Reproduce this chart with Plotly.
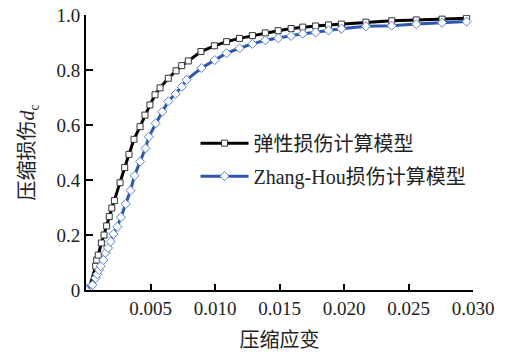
import plotly.graph_objects as go

# Compressive strain / damage for the elastic damage model
elastic_strain = [0.0, 0.00026, 0.00075, 0.00083, 0.00095, 0.00119, 0.0014, 0.0016, 0.0018,
                  0.002, 0.0022, 0.00264, 0.003, 0.00333, 0.00372, 0.00419, 0.00457,
                  0.00496, 0.00535, 0.00574, 0.00638, 0.00698, 0.00742, 0.00793, 0.00891,
                  0.00995, 0.0109, 0.0119, 0.0129, 0.0139, 0.0149, 0.0159, 0.0168,
                  0.0178, 0.0188, 0.0198, 0.0217, 0.0237, 0.0256, 0.0276, 0.0295]
elastic_damage = [0.0, 0.007, 0.087, 0.109, 0.127, 0.171, 0.2, 0.233, 0.267,
                  0.298, 0.325, 0.39, 0.445, 0.493, 0.548, 0.594, 0.636,
                  0.673, 0.71, 0.735, 0.77, 0.797, 0.816, 0.833, 0.867,
                  0.888, 0.903, 0.915, 0.925, 0.935, 0.943, 0.951, 0.956,
                  0.96, 0.964, 0.967, 0.974, 0.979, 0.982, 0.985, 0.988]

# Compressive strain / damage for the Zhang-Hou model
zh_strain = [0.0, 0.00049, 0.00074, 0.00088, 0.00101, 0.00114, 0.00134, 0.00151, 0.00171,
             0.00191, 0.00213, 0.00243, 0.00271, 0.00308, 0.00345, 0.00376, 0.00419,
             0.00461, 0.00487, 0.0054, 0.00591, 0.00638, 0.00695, 0.00742, 0.0078,
             0.00895, 0.00998, 0.0109, 0.0119, 0.0129, 0.0139, 0.0149, 0.0159,
             0.0168, 0.0178, 0.0188, 0.0198, 0.0217, 0.0237, 0.0256, 0.0276, 0.0295]
zh_damage = [0.0, 0.018, 0.043, 0.057, 0.073, 0.087, 0.109, 0.135, 0.153,
             0.176, 0.204, 0.23, 0.265, 0.313, 0.362, 0.416, 0.467,
             0.515, 0.557, 0.606, 0.648, 0.686, 0.713, 0.739, 0.764,
             0.807, 0.836, 0.861, 0.879, 0.895, 0.908, 0.916, 0.924,
             0.932, 0.937, 0.944, 0.95, 0.959, 0.961, 0.967, 0.972, 0.976]

x_ticks = [0.005, 0.010, 0.015, 0.020, 0.025, 0.030]
x_tick_text = ["0.005", "0.010", "0.015", "0.020", "0.025", "0.030"]
y_ticks = [0, 0.2, 0.4, 0.6, 0.8, 1.0]
y_tick_text = ["0", "0.2", "0.4", "0.6", "0.8", "1.0"]

FONT = "Liberation Serif, Noto Sans CJK SC, serif"

fig = go.Figure()
fig.add_trace(go.Scatter(
    x=elastic_strain, y=elastic_damage, mode="lines+markers",
    name="弹性损伤计算模型", legendgroup="elastic",
    line=dict(color="black", width=3),
    marker=dict(symbol="square", size=6, color="white",
                line=dict(color="#333333", width=1)),
))
fig.add_trace(go.Scatter(
    x=zh_strain, y=zh_damage, mode="lines+markers",
    name="Zhang-Hou损伤计算模型", legendgroup="zhanghou",
    line=dict(color="#2b58b0", width=3),
    marker=dict(symbol="diamond", size=7, color="white",
                line=dict(color="#5b7fd6", width=1)),
))

fig.update_layout(
    width=508, height=353,
    margin=dict(l=86, r=35, t=15, b=63),
    paper_bgcolor="white", plot_bgcolor="white",
    font=dict(family=FONT, size=19, color="#222222"),
    showlegend=True,
    legend=dict(x=0.283, y=0.605, xanchor="left", yanchor="top",
                bgcolor="rgba(0,0,0,0)", font=dict(size=20),
                itemwidth=48, tracegroupgap=4),
    xaxis=dict(range=[0, 0.030], tickvals=x_ticks, ticktext=x_tick_text,
               showgrid=False, zeroline=False, showline=True, automargin=False,
               linecolor="black", linewidth=2, ticks="inside", ticklen=6,
               tickwidth=2, tickcolor="black",
               title=dict(text="压缩应变", font=dict(size=20))),
    yaxis=dict(range=[0, 1.0], tickvals=y_ticks, ticktext=y_tick_text,
               showgrid=False, zeroline=False, showline=True, automargin=False,
               linecolor="black", linewidth=2, ticks="inside", ticklen=7,
               tickwidth=2, tickcolor="black",
               title=dict(text="压缩损伤<i>d</i><sub>c</sub>", standoff=16,
                          font=dict(size=20))),
)

fig.write_html("out.html")
